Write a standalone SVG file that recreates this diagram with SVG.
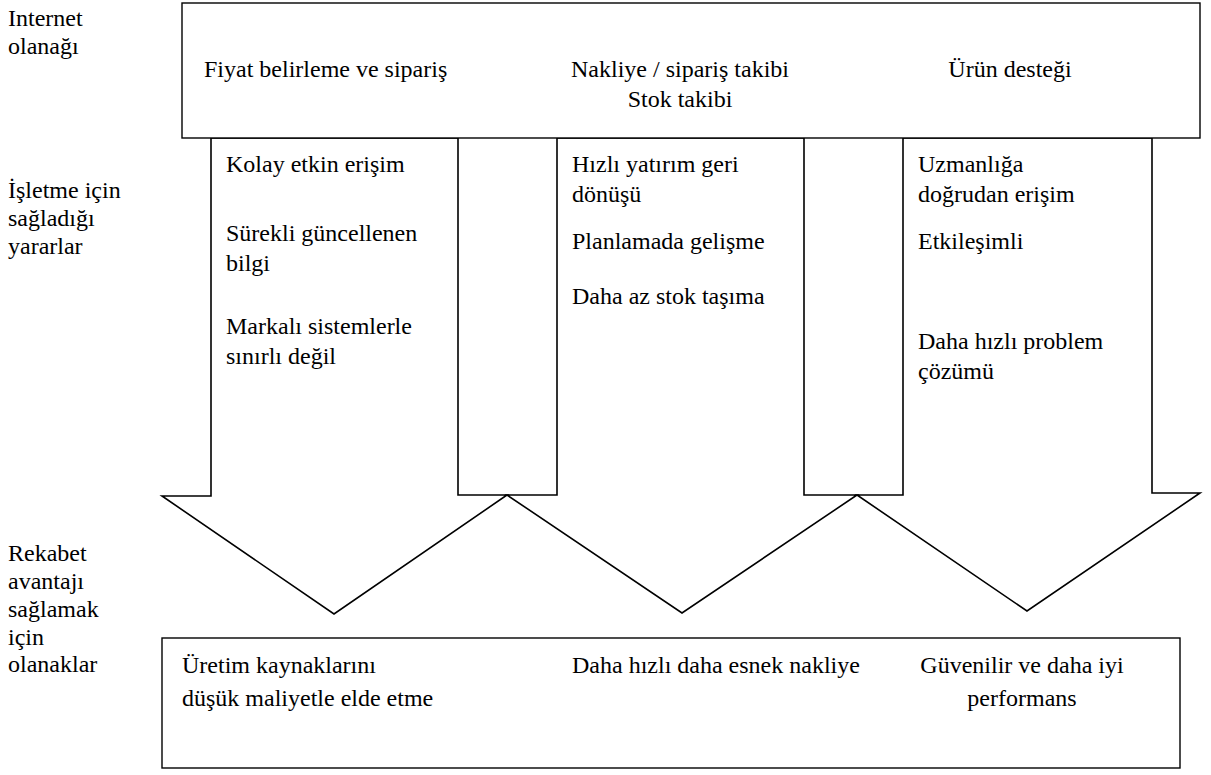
<svg xmlns="http://www.w3.org/2000/svg" width="1211" height="775" viewBox="0 0 1211 775">
<style>
text{font-family:"Liberation Serif","Times New Roman",serif;font-size:24px;fill:#000}
.shape{fill:#fff;stroke:#000;stroke-width:1.6;stroke-linejoin:miter}
.box{fill:#fff;stroke:#000;stroke-width:1.4}
.mid{text-anchor:middle}
</style>
<rect width="1211" height="775" fill="#fff"/>
<g id="connectors">
<polygon id="arrow1" class="shape" points="211,138 211,496 162,496 334,614 507,495 458,495 458,138"/>
<polygon id="arrow2" class="shape" points="557,138 557,495 507,495 682,613 857,495 804,495 804,138"/>
<polygon id="arrow3" class="shape" points="903,138 903,495 857,495 1027,611 1200,493 1152,493 1152,138"/>
</g>
<g id="top-box" font-family="Liberation Serif, serif">
<rect class="box" x="182" y="3" width="1018" height="135"/>
<text x="204" y="77">Fiyat belirleme ve sipariş</text>
<text class="mid" x="680" y="77">Nakliye / sipariş takibi</text>
<text class="mid" x="680" y="107">Stok takibi</text>
<text class="mid" x="1010" y="77">Ürün desteği</text>
</g>
<g id="col1" font-family="Liberation Serif, serif">
<text x="226" y="172">Kolay etkin erişim</text>
<text x="226" y="241">Sürekli güncellenen</text>
<text x="226" y="271">bilgi</text>
<text x="226" y="334">Markalı sistemlerle</text>
<text x="226" y="364">sınırlı değil</text>
</g>
<g id="col2" font-family="Liberation Serif, serif">
<text x="572" y="172">Hızlı yatırım geri</text>
<text x="572" y="202">dönüşü</text>
<text x="572" y="249">Planlamada gelişme</text>
<text x="572" y="304">Daha az stok taşıma</text>
</g>
<g id="col3" font-family="Liberation Serif, serif">
<text x="918" y="172">Uzmanlığa</text>
<text x="918" y="202">doğrudan erişim</text>
<text x="918" y="249">Etkileşimli</text>
<text x="918" y="349">Daha hızlı problem</text>
<text x="918" y="379">çözümü</text>
</g>
<g id="bottom-box" font-family="Liberation Serif, serif">
<rect class="box" x="162" y="638" width="1018" height="130"/>
<text x="182" y="673">Üretim kaynaklarını</text>
<text x="182" y="706">düşük maliyetle elde etme</text>
<text x="572" y="673">Daha hızlı daha esnek nakliye</text>
<text class="mid" x="1022" y="673">Güvenilir ve daha iyi</text>
<text class="mid" x="1022" y="706">performans</text>
</g>
<g id="labels" font-family="Liberation Serif, serif">
<text x="8" y="26">Internet</text>
<text x="8" y="54">olanağı</text>
<text x="8" y="198">İşletme için</text>
<text x="8" y="226">sağladığı</text>
<text x="8" y="254">yararlar</text>
<text x="8" y="561">Rekabet</text>
<text x="8" y="589">avantajı</text>
<text x="8" y="617">sağlamak</text>
<text x="8" y="645">için</text>
<text x="8" y="672">olanaklar</text>
</g>
</svg>
